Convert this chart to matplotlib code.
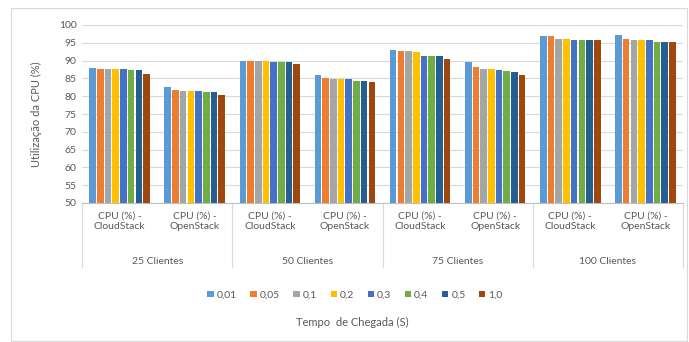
import matplotlib
matplotlib.use("Agg")
import matplotlib.pyplot as plt
import matplotlib.transforms as mtransforms
from matplotlib.patches import Rectangle
import numpy as np

plt.rcParams['font.family'] = ['Lato', 'DejaVu Sans']

groups = ["25 Clientes", "50 Clientes", "75 Clientes", "100 Clientes"]
subcats = ["CPU (%) -\nCloudStack", "CPU (%) -\nOpenStack"]
series = ["0,01", "0,05", "0,1", "0,2", "0,3", "0,4", "0,5", "1,0"]
colors = ["#5B9BD5", "#ED7D31", "#A5A5A5", "#FFC000", "#4472C4", "#70AD47", "#255E91", "#9E480E"]

# values[category][series]; categories in order: 25 CS, 25 OS, 50 CS, 50 OS, 75 CS, 75 OS, 100 CS, 100 OS
values = [
    [88.0, 87.7, 87.7, 87.7, 87.7, 87.4, 87.4, 86.2],
    [82.6, 81.7, 81.5, 81.5, 81.5, 81.2, 81.2, 80.2],
    [90.0, 90.0, 90.0, 89.8, 89.7, 89.7, 89.7, 89.0],
    [85.9, 85.0, 84.9, 84.9, 84.9, 84.4, 84.4, 84.0],
    [93.0, 92.8, 92.7, 92.3, 91.4, 91.4, 91.2, 90.5],
    [89.6, 88.3, 87.6, 87.6, 87.5, 87.2, 86.8, 85.9],
    [97.0, 97.0, 96.0, 96.0, 95.7, 95.7, 95.7, 95.7],
    [97.3, 96.1, 95.7, 95.7, 95.7, 95.3, 95.3, 95.2],
]

W, H = 689, 342
fig = plt.figure(figsize=(W / 100, H / 100), dpi=100)
fig.patch.set_facecolor("white")
ax = fig.add_axes([82 / W, 1 - 203 / H, (683 - 82) / W, (203 - 25) / H])

n_cat = len(values)
n_ser = len(series)
span = 0.82
slot = span / n_ser
x = np.arange(n_cat)
for j in range(n_ser):
    vals = [values[i][j] for i in range(n_cat)]
    pos = x - span / 2 + slot * (j + 0.5)
    ax.bar(pos, [v - 50 for v in vals], bottom=50, width=slot * 0.86,
           color=colors[j], label=series[j], zorder=3)

ax.set_xlim(-0.5, n_cat - 0.5)
ax.set_ylim(50, 100)
ax.set_yticks(np.arange(50, 101, 5))
ax.yaxis.grid(True, color="#D9D9D9", linewidth=0.8, zorder=0)
for s in ["top", "right", "left"]:
    ax.spines[s].set_visible(False)
ax.spines["bottom"].set_color("#BFBFBF")
ax.tick_params(axis="y", length=0, labelsize=7.5, labelcolor="#595959", pad=4)
ax.set_xticks(x)
ax.set_xticklabels([subcats[i % 2] for i in range(n_cat)], fontsize=7.5, color="#595959")
ax.tick_params(axis="x", length=0, pad=6)

trans = mtransforms.blended_transform_factory(ax.transData, ax.transAxes)
for g in range(len(groups) + 1):
    xp = -0.5 + 2 * g
    ax.plot([xp, xp], [0, -64 / 178], transform=trans, color="#D9D9D9",
            linewidth=0.8, clip_on=False)
for g, name in enumerate(groups):
    ax.text(2 * g + 0.5, -58 / 178, name, transform=trans, ha="center", va="center",
            fontsize=7.5, color="#595959")

ax.set_ylabel("Utilização da CPU (%)", fontsize=8, color="#595959", labelpad=12)

handles, labels = ax.get_legend_handles_labels()
leg = fig.legend(handles, labels, loc="center", bbox_to_anchor=(355 / W, 1 - 295 / H),
                 ncol=n_ser, frameon=False, fontsize=7.5, handlelength=0.6,
                 handleheight=0.6, handletextpad=0.3, columnspacing=1.3)
for t in leg.get_texts():
    t.set_color("#595959")
fig.text(352 / W, 1 - 322 / H, "Tempo  de Chegada (S)", ha="center", va="center",
         fontsize=8, color="#595959")

fig.patches.append(Rectangle((11 / W, 1 / H), (W - 13) / W, (H - 9) / H,
                             transform=fig.transFigure, fill=False,
                             edgecolor="#D9D9D9", linewidth=0.8))

fig.savefig("out.png", dpi=100)
